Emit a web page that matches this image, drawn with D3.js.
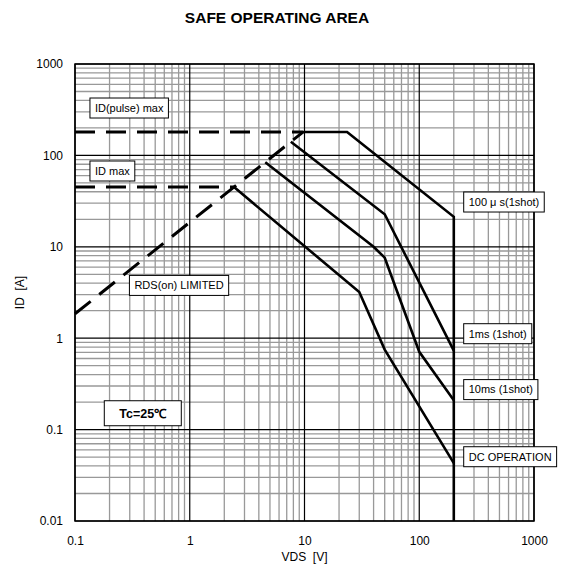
<!DOCTYPE html>
<html>
<head>
<meta charset="utf-8">
<script src="https://cdn.jsdelivr.net/npm/d3@7"></script>
<style>
  body { margin: 0; background: #fff; }
  text { font-family: "Liberation Sans", Arial, sans-serif; white-space: pre; }
</style>
</head>
<body>
<div id="chart"></div>
<script>
// axis ticks
var vdsTicks = [ 0.1, 1, 10, 100, 1000 ];
var idTicks = [ 0.01, 0.1, 1, 10, 100, 1000 ];

// limit lines (VDS in V, ID in A)
var rdsV = [ 0.1, 9.7 ];
var rdsI = [ 1.85, 180 ];
var pulseMaxV = [ 0.1, 9.7 ];
var pulseMaxI = [ 180, 180 ];
var idMaxV = [ 0.1, 2.43 ];
var idMaxI = [ 45, 45 ];

// pulse curves
var us100V = [ 9.7, 23.5, 200, 200 ];
var us100I = [ 180, 180, 21.3, 0.01 ];
var ms1V = [ 7.6, 50, 200 ];
var ms1I = [ 141, 22.7, 0.73 ];
var ms10V = [ 4.55, 40, 50, 100, 200 ];
var ms10I = [ 84, 10, 7.6, 0.71, 0.21 ];
var dcV = [ 2.43, 30, 50, 200 ];
var dcI = [ 45, 3.2, 0.75, 0.043 ];

// annotation boxes: text, left VDS, centre ID
var labelText = [ "ID(pulse) max", "ID max", "RDS(on) LIMITED", "100 \u03bc s(1shot)", "1ms (1shot)", "10ms (1shot)", "DC OPERATION" ];
var labelV = [ 0.135, 0.135, 0.298, 244, 244, 244, 244 ];
var labelI = [ 330, 67.5, 3.78, 30.9, 1.12, 0.274, 0.0505 ];

function zip( vs, is )
{
    var out = [];
    for( var i = 0 ; i < vs.length ; i++ )
        out.push( { v: vs[ i ], i: is[ i ] } );
    return out;
}

var W = 563, H = 570;
var plotL = 75, plotR = 534, plotT = 64, plotB = 521;

var svg = d3.select( "#chart" ).append( "svg" )
    .attr( "width", W )
    .attr( "height", H );

svg.append( "rect" ).attr( "width", W ).attr( "height", H ).attr( "fill", "#fff" );

var x = d3.scaleLog().domain( [ 0.1, 1000 ] ).range( [ plotL, plotR ] );
var y = d3.scaleLog().domain( [ 0.01, 1000 ] ).range( [ plotB, plotT ] );

function isMajor( d ) { return Math.abs( Math.log10( d ) - Math.round( Math.log10( d ) ) ) < 1e-6; }

var xt = x.ticks(), yt = y.ticks();

// minor grid
var grid = svg.append( "g" );
grid.selectAll( ".vx" ).data( xt.filter( function( d ) { return !isMajor( d ); } ) )
    .enter().append( "line" )
    .attr( "x1", function( d ) { return x( d ); } ).attr( "x2", function( d ) { return x( d ); } )
    .attr( "y1", plotT ).attr( "y2", plotB )
    .attr( "stroke", "#999" ).attr( "stroke-width", 1.3 );
grid.selectAll( ".hy" ).data( yt.filter( function( d ) { return !isMajor( d ); } ) )
    .enter().append( "line" )
    .attr( "y1", function( d ) { return y( d ); } ).attr( "y2", function( d ) { return y( d ); } )
    .attr( "x1", plotL ).attr( "x2", plotR )
    .attr( "stroke", "#999" ).attr( "stroke-width", 1.3 );

// major grid
grid.selectAll( ".mx" ).data( vdsTicks )
    .enter().append( "line" )
    .attr( "x1", function( d ) { return x( d ); } ).attr( "x2", function( d ) { return x( d ); } )
    .attr( "y1", plotT ).attr( "y2", plotB )
    .attr( "stroke", "#000" ).attr( "stroke-width", 1.2 );
grid.selectAll( ".my" ).data( idTicks )
    .enter().append( "line" )
    .attr( "y1", function( d ) { return y( d ); } ).attr( "y2", function( d ) { return y( d ); } )
    .attr( "x1", plotL ).attr( "x2", plotR )
    .attr( "stroke", "#000" ).attr( "stroke-width", 1.2 );

svg.append( "rect" )
    .attr( "x", plotL ).attr( "y", plotT )
    .attr( "width", plotR - plotL ).attr( "height", plotB - plotT )
    .attr( "fill", "none" ).attr( "stroke", "#000" ).attr( "stroke-width", 1.5 );

// axes (labels only)
var fmt = function( d ) { return String( d ); };
var ax = svg.append( "g" ).attr( "transform", "translate(0," + plotB + ")" )
    .call( d3.axisBottom( x ).tickValues( vdsTicks ).tickFormat( fmt ).tickSize( 0 ).tickPadding( 15 ) );
var ay = svg.append( "g" ).attr( "transform", "translate(" + plotL + ",0)" )
    .call( d3.axisLeft( y ).tickValues( idTicks ).tickFormat( fmt ).tickSize( 0 ).tickPadding( 12 ) );
[ ax, ay ].forEach( function( a ) {
    a.select( ".domain" ).remove();
    a.selectAll( "text" ).attr( "font-size", 12 ).attr( "fill", "#000" )
        .attr( "font-family", "'Liberation Sans', Arial, sans-serif" );
});

// curves
var line = d3.line().x( function( d ) { return x( d.v ); } ).y( function( d ) { return y( d.i ); } );
var curves = svg.append( "g" ).attr( "fill", "none" ).attr( "stroke", "#000" ).attr( "stroke-linejoin", "miter" );

[ zip( us100V, us100I ), zip( ms1V, ms1I ), zip( ms10V, ms10I ), zip( dcV, dcI ) ].forEach( function( c ) {
    curves.append( "path" ).attr( "d", line( c ) ).attr( "stroke-width", 2.6 );
});

[ zip( pulseMaxV, pulseMaxI ), zip( idMaxV, idMaxI ), zip( rdsV, rdsI ) ].forEach( function( c ) {
    curves.append( "path" ).attr( "d", line( c ) )
        .attr( "stroke-width", 3 ).attr( "stroke-dasharray", "20,11" );
});

// annotation boxes
for( var k = 0 ; k < labelText.length ; k++ )
{
    var g = svg.append( "g" );
    var t = g.append( "text" )
        .attr( "x", x( labelV[ k ] ) + 5 )
        .attr( "y", y( labelI[ k ] ) )
        .attr( "dy", "0.35em" )
        .attr( "font-size", 11 )
        .text( labelText[ k ] );
    var w = t.node().getComputedTextLength();
    g.insert( "rect", "text" )
        .attr( "x", x( labelV[ k ] ) ).attr( "y", y( labelI[ k ] ) - 10 )
        .attr( "width", w + 10 ).attr( "height", 20 )
        .attr( "fill", "#fff" ).attr( "stroke", "#000" ).attr( "stroke-width", 1 );
}

// Tc box
var tc = svg.append( "g" );
tc.append( "rect" )
    .attr( "x", x( 0.18 ) ).attr( "y", y( 0.151 ) - 12.5 )
    .attr( "width", 77 ).attr( "height", 25 )
    .attr( "fill", "#fff" ).attr( "stroke", "#000" ).attr( "stroke-width", 1 );
tc.append( "text" )
    .attr( "x", x( 0.18 ) + 38.5 ).attr( "y", y( 0.151 ) )
    .attr( "dy", "0.35em" ).attr( "text-anchor", "middle" )
    .attr( "font-size", 12.5 ).attr( "font-weight", "bold" )
    .text( "Tc=25\u2103" );

// titles
svg.append( "text" )
    .attr( "x", 277 ).attr( "y", 23 )
    .attr( "text-anchor", "middle" )
    .attr( "font-size", 15.5 ).attr( "font-weight", "bold" )
    .text( "SAFE OPERATING AREA" );

svg.append( "text" )
    .attr( "x", ( plotL + plotR ) / 2 ).attr( "y", 561 )
    .attr( "text-anchor", "middle" )
    .attr( "font-size", 12 )
    .text( "VDS  [V]" );

svg.append( "text" )
    .attr( "transform", "translate(24," + ( ( plotT + plotB ) / 2 ) + ") rotate(-90)" )
    .attr( "text-anchor", "middle" )
    .attr( "font-size", 12 )
    .text( "ID  [A]" );
</script>
</body>
</html>
